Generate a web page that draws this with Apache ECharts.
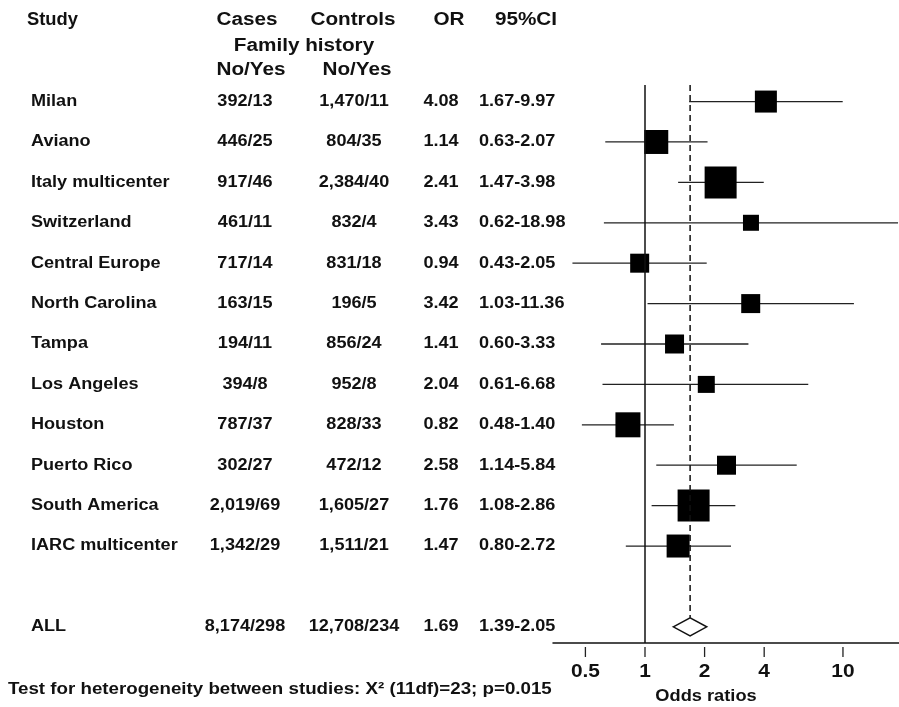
<!DOCTYPE html>
<html><head><meta charset="utf-8">
<script src="https://cdn.jsdelivr.net/npm/echarts@6/dist/echarts.min.js"></script>
<style>html,body{margin:0;padding:0;background:#fff}#c{width:899px;height:707px}</style>
</head><body><div id="c"></div>
<script>
// ---- data ----
const studies = ['Milan','Aviano','Italy multicenter','Switzerland','Central Europe','North Carolina','Tampa','Los Angeles','Houston','Puerto Rico','South America','IARC multicenter'];
const cases = ['392/13','446/25','917/46','461/11','717/14','163/15','194/11','394/8','787/37','302/27','2,019/69','1,342/29'];
const controls = ['1,470/11','804/35','2,384/40','832/4','831/18','196/5','856/24','952/8','828/33','472/12','1,605/27','1,511/21'];
const oddsRatio = [4.08,1.14,2.41,3.43,0.94,3.42,1.41,2.04,0.82,2.58,1.76,1.47];
const ciLow = [1.67,0.63,1.47,0.62,0.43,1.03,0.60,0.61,0.48,1.14,1.08,0.80];
const ciHigh = [9.97,2.07,3.98,18.98,2.05,11.36,3.33,6.68,1.40,5.84,2.86,2.72];
const weights = [22,24,32,16,19,19,19,17,25,19,32,23]; // relative study weights
const pooledLabel = 'ALL';
const pooledCases = '8,174/298';
const pooledControls = '12,708/234';
const pooledOR = 1.69;
const pooledLow = 1.39;
const pooledHigh = 2.05;
const tickVals = [0.5, 1, 2, 4, 10];
const tickLabels = ['0.5', '1', '2', '4', '10'];

// ---- layout ----
const Y_MIN = -0.41, Y_MAX = 13.4, POOLED_ROW = 13;
const FONT = '"Liberation Sans", Arial, sans-serif';
const F16 = 'bold 16px ' + FONT;
const F18 = 'bold 18px ' + FONT;
const INK = '#111';
const fmt = v => v.toFixed(2);

const studyRows = studies.map((s, i) => [oddsRatio[i], ciLow[i], ciHigh[i], i, weights[i]]);
const tableRows = studies.map((s, i) => [1, i, s, cases[i], controls[i], fmt(oddsRatio[i]), fmt(ciLow[i]) + '-' + fmt(ciHigh[i])]);
tableRows.push([1, POOLED_ROW, pooledLabel, pooledCases, pooledControls, fmt(pooledOR), fmt(pooledLow) + '-' + fmt(pooledHigh)]);

function txt(text, x, y, align, font, sx) {
  return {type: 'text', x: x, y: y, scaleX: sx || 1.13,
    style: {text: text, x: 0, y: 0, align: align, verticalAlign: 'middle', font: font || F16, fill: INK}};
}

const chart = echarts.init(document.getElementById('c'), null, {renderer: 'canvas'});
chart.setOption({
  animation: false,
  backgroundColor: '#fff',
  grid: {left: 553, right: 0, top: 85, bottom: 64},
  xAxis: {
    type: 'log', logBase: 2, min: 0.343, max: 19.19,
    axisLine: {show: true, onZero: false, lineStyle: {color: '#111', width: 1.5}},
    axisTick: {show: false}, axisLabel: {show: false}, splitLine: {show: false}
  },
  yAxis: {type: 'value', inverse: true, min: Y_MIN, max: Y_MAX, show: false},
  graphic: [
    txt('Study', 27, 20, 'left', F18, 1.02),
    txt('Cases', 247, 20, 'center', F18, 1.15),
    txt('Controls', 353, 20, 'center', F18, 1.15),
    txt('OR', 449, 20, 'center', F18, 1.15),
    txt('95%CI', 526, 20, 'center', F18, 1.15),
    txt('Family history', 304, 46, 'center', F18, 1.15),
    txt('No/Yes', 251, 70, 'center', F18, 1.15),
    txt('No/Yes', 357, 70, 'center', F18, 1.15),
    txt('Test for heterogeneity between studies: X\u00B2 (11df)=23; p=0.015', 8, 690, 'left', F16, 1.17),
    txt('Odds ratios', 706, 697, 'center', F16, 1.14)
  ],
  series: [
    {
      type: 'custom', name: 'studies', clip: false,
      data: studyRows,
      renderItem: function (params, api) {
        const lo = api.coord([api.value(1), api.value(3)]);
        const hi = api.coord([api.value(2), api.value(3)]);
        const c = api.coord([api.value(0), api.value(3)]);
        const s = api.value(4);
        return {type: 'group', children: [
          {type: 'line', shape: {x1: lo[0], y1: lo[1], x2: hi[0], y2: hi[1]}, style: {stroke: '#222', lineWidth: 1.3}},
          {type: 'rect', shape: {x: c[0] - s / 2, y: c[1] - s / 2, width: s, height: s}, style: {fill: '#000'}}
        ]};
      },
      markLine: {
        silent: true, symbol: 'none', label: {show: false},
        lineStyle: {color: '#111', width: 1.5, type: 'solid'},
        data: [{xAxis: 1}]
      }
    },
    {
      type: 'custom', name: 'pooled', clip: false,
      data: [[pooledOR, pooledLow, pooledHigh, POOLED_ROW]],
      renderItem: function (params, api) {
        const row = api.value(3);
        const c = api.coord([api.value(0), row]);
        const lo = api.coord([api.value(1), row]);
        const hi = api.coord([api.value(2), row]);
        const top = api.coord([api.value(0), Y_MIN]);
        const h = 9;
        return {type: 'group', children: [
          {type: 'line', shape: {x1: c[0], y1: top[1], x2: c[0], y2: c[1] - h}, style: {stroke: '#111', lineWidth: 1.5, lineDash: [6, 4]}},
          {type: 'polygon', shape: {points: [[lo[0], c[1]], [c[0], c[1] - h], [hi[0], c[1]], [c[0], c[1] + h]]}, style: {fill: '#fff', stroke: '#111', lineWidth: 1.5}}
        ]};
      }
    },
    {
      type: 'custom', name: 'ticks', clip: false,
      data: tickVals.map((v, i) => [v, Y_MAX, i]),
      renderItem: function (params, api) {
        const p = api.coord([api.value(0), api.value(1)]);
        return {type: 'group', children: [
          {type: 'line', shape: {x1: p[0], y1: p[1] + 4, x2: p[0], y2: p[1] + 14}, style: {stroke: '#222', lineWidth: 1.3}},
          txt(tickLabels[api.value(2)], p[0], p[1] + 29, 'center', 'bold 19px ' + FONT, 1.1)
        ]};
      }
    },
    {
      type: 'custom', name: 'table', clip: false,
      data: tableRows,
      renderItem: function (params, api) {
        const y = api.coord([1, api.value(1)])[1];
        const r = tableRows[params.dataIndex];
        return {type: 'group', children: [
          txt(r[2], 31, y, 'left'),
          txt(r[3], 245, y, 'center'),
          txt(r[4], 354, y, 'center'),
          txt(r[5], 441, y, 'center'),
          txt(r[6], 479, y, 'left')
        ]};
      }
    }
  ]
});
</script>
</body></html>
